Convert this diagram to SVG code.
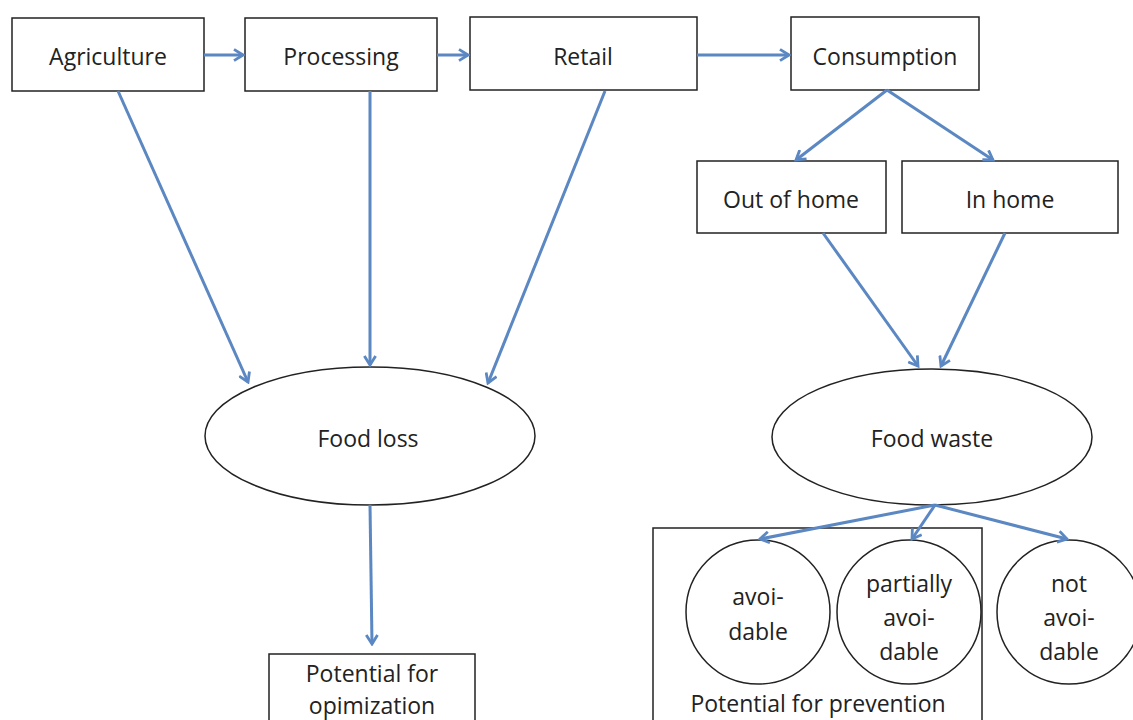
<svg xmlns="http://www.w3.org/2000/svg" width="1133" height="720" viewBox="0 0 1133 720">
<defs>
<style>
.box{fill:#fff;stroke:#222;stroke-width:1.5}
.frame{fill:none;stroke:#222;stroke-width:1.5}
.t{font-family:"Open Sans","Liberation Sans",sans-serif;font-size:23px;fill:#222;text-anchor:middle}
.c{fill:none;stroke:#5b87c2;stroke-width:3;marker-end:url(#ah)}
</style>
<marker id="ah" viewBox="0 0 12 12" refX="10" refY="6" markerWidth="4.5" markerHeight="4.5" orient="auto" markerUnits="strokeWidth">
<polyline points="2,1 10,6 2,11" fill="none" stroke="#5b87c2" stroke-width="2.5" stroke-linejoin="miter"/>
</marker>
</defs>
<rect width="1133" height="720" fill="#fff"/>
<g id="agriculture"><rect class="box" x="12" y="18" width="192" height="73"/><text class="t" x="108" y="65">Agriculture</text></g>
<g id="processing"><rect class="box" x="245" y="18" width="192" height="73"/><text class="t" x="341" y="65">Processing</text></g>
<g id="retail"><rect class="box" x="470" y="17" width="227" height="73"/><text class="t" x="583" y="65">Retail</text></g>
<g id="consumption"><rect class="box" x="791" y="17" width="188" height="73"/><text class="t" x="885" y="65">Consumption</text></g>
<g id="out-of-home"><rect class="box" x="697" y="161" width="189" height="72"/><text class="t" x="791" y="208">Out of home</text></g>
<g id="in-home"><rect class="box" x="902" y="161" width="216" height="72"/><text class="t" x="1010" y="208">In home</text></g>
<g id="food-loss"><ellipse class="box" cx="370" cy="436" rx="165" ry="69"/><text class="t" x="368" y="447">Food loss</text></g>
<g id="food-waste"><ellipse class="box" cx="932" cy="437" rx="160" ry="68"/><text class="t" x="932" y="447">Food waste</text></g>
<g id="potential-optimization"><rect class="box" x="269" y="654" width="206" height="80"/><text class="t" x="372" y="682">Potential for</text><text class="t" x="372" y="714">opimization</text></g>
<g id="potential-prevention"><rect class="frame" x="653" y="528" width="329" height="210"/><text class="t" x="818" y="712">Potential for prevention</text></g>
<g id="avoidable"><circle class="box" cx="758" cy="612" r="72"/><text class="t" x="758" y="605">avoi-</text><text class="t" x="758" y="640">dable</text></g>
<g id="partially-avoidable"><circle class="box" cx="909" cy="612" r="72"/><text class="t" x="909" y="592">partially</text><text class="t" x="909" y="626">avoi-</text><text class="t" x="909" y="660">dable</text></g>
<g id="not-avoidable"><circle class="box" cx="1069" cy="612" r="72"/><text class="t" x="1069" y="592">not</text><text class="t" x="1069" y="626">avoi-</text><text class="t" x="1069" y="660">dable</text></g>
<g id="connectors">
<line class="c" x1="204" y1="55" x2="243" y2="55"/>
<line class="c" x1="437" y1="55" x2="468" y2="55"/>
<line class="c" x1="697" y1="55" x2="789" y2="55"/>
<line class="c" x1="118" y1="91" x2="248" y2="382"/>
<line class="c" x1="370" y1="91" x2="370" y2="365"/>
<line class="c" x1="605" y1="91" x2="488" y2="383"/>
<line class="c" x1="887" y1="90" x2="796" y2="160"/>
<line class="c" x1="887" y1="90" x2="993" y2="160"/>
<line class="c" x1="823" y1="233" x2="918" y2="366"/>
<line class="c" x1="1005" y1="233" x2="941" y2="366"/>
<line class="c" x1="370" y1="505" x2="372" y2="644"/>
<line class="c" x1="935" y1="505" x2="760" y2="539"/>
<line class="c" x1="935" y1="505" x2="912" y2="539"/>
<line class="c" x1="935" y1="505" x2="1067" y2="539"/>
</g>
</svg>
